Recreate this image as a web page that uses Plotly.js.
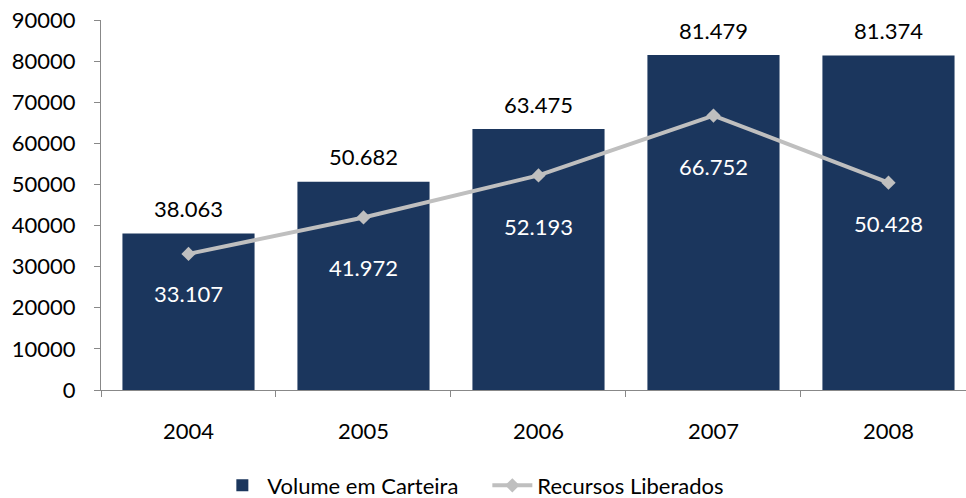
<!DOCTYPE html>
<html><head><meta charset="utf-8">
<script src="https://cdn.plot.ly/plotly-3.0.1.min.js"></script>
<style>body{margin:0;background:#fff}#c{width:966px;height:498px}</style>
</head><body><div id="c"></div>
<script>
const years = ['2004','2005','2006','2007','2008'];
const volumeCarteira = [38063, 50682, 63475, 81479, 81374];
const recursosLiberados = [33107, 41972, 52193, 66752, 50428];
const lineLabelShift = [-40, -50, -51, -51, -41];

const FONT = 'Lato, "Open Sans", sans-serif';
const FS = 22;
function fmt(v) {
  return String(v).replace(/\B(?=(\d{3})+(?!\d))/g, '.');
}

const bars = {
  type: 'bar', x: years, y: volumeCarteira, name: 'Volume em Carteira',
  marker: {color: '#1B365D'}, hoverinfo: 'none'
};
const line = {
  type: 'scatter', mode: 'lines+markers', x: years, y: recursosLiberados,
  name: 'Recursos Liberados',
  line: {color: '#BFBFBF', width: 4},
  marker: {symbol: 'diamond', size: 11, color: '#BFBFBF'}, hoverinfo: 'none'
};

const annotations = [];
for (let i = 0; i < years.length; i++) {
  annotations.push({xref: 'x', yref: 'y', x: i, y: volumeCarteira[i],
    text: fmt(volumeCarteira[i]),
    showarrow: false, yanchor: 'middle', yshift: 25,
    font: {family: FONT, size: FS, color: '#000'}});
  annotations.push({xref: 'x', yref: 'y', x: i, y: recursosLiberados[i],
    text: fmt(recursosLiberados[i]),
    showarrow: false, yanchor: 'middle', yshift: lineLabelShift[i],
    font: {family: FONT, size: FS, color: '#fff'}});
}

const layout = {
  width: 966, height: 498,
  margin: {l: 101, r: 0, t: 20, b: 108, autoexpand: false},
  paper_bgcolor: '#fff', plot_bgcolor: '#fff',
  font: {family: FONT, size: FS, color: '#000'},
  bargap: 0.245,
  showlegend: true,
  legend: {orientation: 'h', x: 0.225, xanchor: 'left', xref: 'container',
    y: 0.025, yanchor: 'middle', yref: 'container',
    entrywidth: 215, itemwidth: 40,
    font: {family: FONT, size: FS, color: '#000'}},
  xaxis: {type: 'category', range: [-0.5, 4.443], showline: true,
    linecolor: '#888', linewidth: 1, ticks: 'outside', ticklen: 6,
    tickcolor: '#888', tickson: 'boundaries', showgrid: false,
    ticklabelstandoff: 22,
    tickfont: {family: FONT, size: FS}, zeroline: false},
  yaxis: {range: [0, 90000], dtick: 10000, showline: true, linecolor: '#888',
    linewidth: 1, ticks: 'outside', ticklen: 6, tickcolor: '#888',
    showgrid: false, zeroline: false, tickformat: 'd',
    ticklabelstandoff: 14,
    tickfont: {family: FONT, size: FS}},
  annotations: annotations
};

Plotly.newPlot('c', [bars, line], layout, {displayModeBar: false, staticPlot: true});
</script></body></html>
